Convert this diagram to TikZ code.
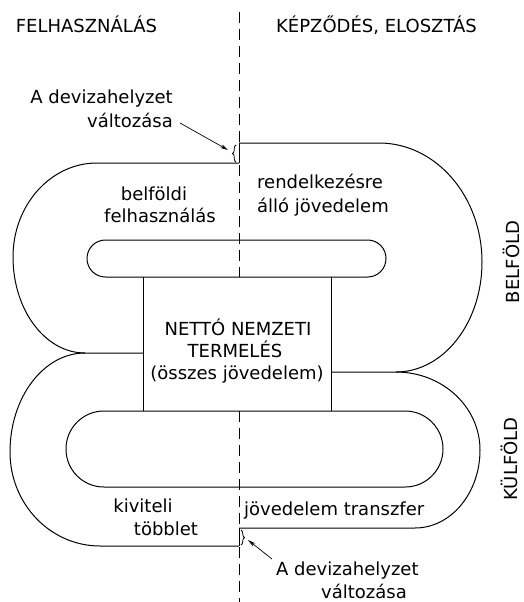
\documentclass[tikz,border=0pt]{standalone}
\usepackage{fontspec}
\setmainfont{DejaVu Sans}
\usetikzlibrary{arrows.meta,decorations.pathreplacing}
\begin{document}
\begin{tikzpicture}[x=1pt,y=-1pt,
  every node/.style={inner sep=0pt,font=\fontsize{18}{23}\selectfont},
  ln/.style={line width=1.0pt,line join=round},
  divider/.style={line width=0.9pt,dash pattern=on 11pt off 6pt},
  arr/.style={line width=0.7pt,-{Stealth[length=8pt,width=4pt]}},
  brc/.style={line width=0.8pt,decorate,decoration={brace,amplitude=3.5pt}}]
\useasboundingbox (0,0) rectangle (523,602);
% headers
\node[anchor=base] (hl) at (86.5,33) {FELHASZNÁLÁS};
\node[anchor=base] (hr) at (376.5,33) {KÉPZŐDÉS, ELOSZTÁS};
% divider
\draw[divider] (239,12) -- (239,277);
\draw[divider] (239,411) -- (239,602);
% upper-left outer loop
\draw[ln] (239,163) -- (97,163) .. controls (50.6,163) and (13,205.1) .. (13,257)
  .. controls (13,310) and (45.2,353) .. (85,353) -- (143,353);
% upper-right outer loop
\draw[ln] (239,143) -- (379,143) .. controls (435.9,143) and (482,196.3) .. (482,262)
  .. controls (482,322.8) and (443.5,372) .. (396,372) -- (331,372);
% lower-left outer loop
\draw[ln] (85,353) .. controls (43.6,353) and (10,397.3) .. (10,452)
  .. controls (10,503.9) and (50.3,546) .. (100,546) -- (239,546);
% lower-right outer loop
\draw[ln] (396,372) .. controls (442.4,372) and (480,406.9) .. (480,450)
  .. controls (480,493.1) and (450.9,528) .. (415,528) -- (239,528);
% steps
\draw[ln] (239,143) -- (239,163);
\draw[ln] (239,528) -- (239,546);
% inner pills
\draw[ln,rounded corners=18.4pt] (87,240) rectangle (386,277);
\draw[ln,rounded corners=37.9pt] (66,411) rectangle (443,487);
% central box sides
\draw[ln] (143,277) -- (143,411);
\draw[ln] (331,277) -- (331,411);
% braces
\draw[brc] (236,162) -- (236,145);
\draw[brc] (241,530) -- (241,545);
% annotations
\node[anchor=base east] (d1a) at (173,103) {A devizahelyzet};
\node[anchor=base east] (d1b) at (173,127) {változása};
\coordinate (a1s) at (180,123);
\coordinate (a1e) at (228,150);
\draw[arr] (a1s) -- (a1e);
\node[anchor=base west] (d2a) at (276,575) {A devizahelyzet};
\node[anchor=base east] (d2b) at (407,598) {változása};
\coordinate (a2s) at (272,559);
\coordinate (a2e) at (248,540);
\draw[arr] (a2s) -- (a2e);
% region texts
\node[anchor=base] (bf1) at (154,200) {belföldi};
\node[anchor=base] (bf2) at (160,222) {felhasználás};
\node[anchor=base west] (rj1) at (257,188) {rendelkezésre};
\node[anchor=base west] (rj2) at (257,212) {álló jövedelem};
\node[anchor=base] (nn1) at (238,335) {NETTÓ NEMZETI};
\node[anchor=base] (nn2) at (235,357) {TERMELÉS};
\node[anchor=base] (nn3) at (237,379) {(összes jövedelem)};
\node[anchor=base] (kt1) at (143,512) {kiviteli};
\node[anchor=base] (kt2) at (166,535) {többlet};
\node[anchor=base west] (jt) at (244,515) {jövedelem transzfer};
\node[rotate=90] (belf) at (511,262) {BELFÖLD};
\node[rotate=90] (kulf) at (509,459) {KÜLFÖLD};
\end{tikzpicture}
\end{document}
